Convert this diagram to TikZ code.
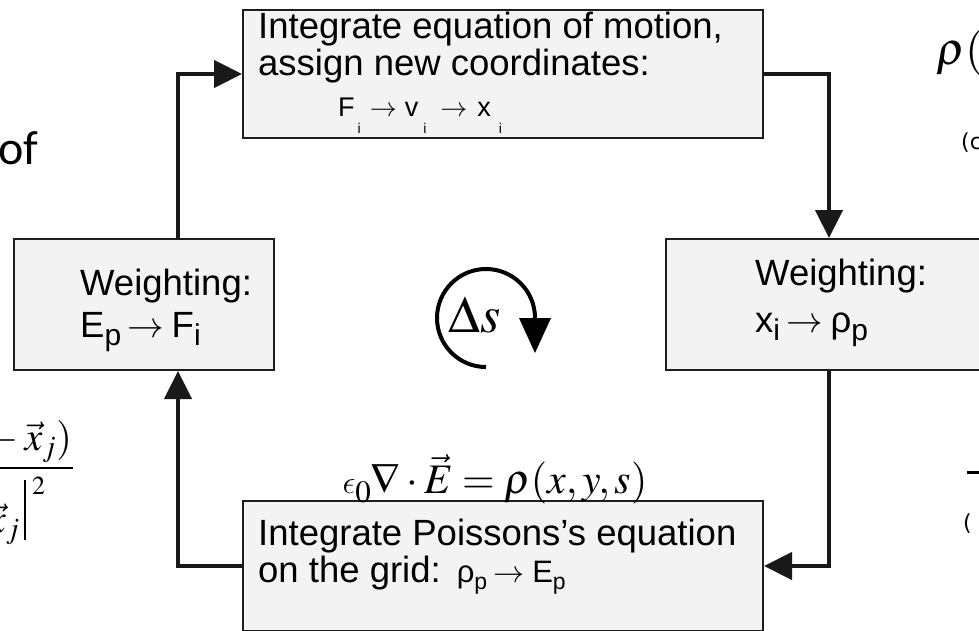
\documentclass[tikz,border=0pt]{standalone}
\usepackage{mathptmx}
\usepackage[no-math]{fontspec}
\usepackage{graphicx}
\setmainfont{Liberation Sans}
\newfontfamily\calfont{Carlito}
\newfontfamily\djv{DejaVu Sans}
\usetikzlibrary{arrows.meta}
\DeclareSymbolFont{lmlet}{OML}{lmm}{m}{it}
\DeclareMathSymbol{\lunateps}{\mathord}{lmlet}{"0F}
\definecolor{boxfill}{RGB}{242,243,242}
\definecolor{boxline}{RGB}{30,30,30}
\newcommand{\tsub}[3]{\raisebox{#1}{\fontsize{#2}{#2}\selectfont #3}}
\begin{document}
\begin{tikzpicture}[x=1pt,y=-1pt,
  box/.style={draw=boxline, line width=2pt, fill=boxfill, rectangle, inner sep=0pt, anchor=north west},
  conn/.style={line width=4.5pt, draw=black!90, -{Triangle[length=28pt,width=27pt]}},
  lbl/.style={anchor=base west, inner sep=0pt, font=\fontsize{36.5}{37}\selectfont},
  frag/.style={anchor=base west, inner sep=0pt}]
\useasboundingbox (0,0) rectangle (979,631);
\clip (0,0) rectangle (979,631);

% boxes
\node[box, minimum width=520pt, minimum height=128pt] (T) at (242,9) {};
\node[box, minimum width=260pt, minimum height=131pt] (L) at (13,238) {};
\node[box, minimum width=326pt, minimum height=131pt] (R) at (665,238) {};
\node[box, minimum width=520pt, minimum height=130pt] (B) at (242,500) {};

% connectors
\draw[conn] ([xshift=34pt]L.north) |- (T.west);
\draw[conn] (T.east) -| (R.north);
\draw[conn] (R.south) |- (B.east);
\draw[conn] (B.west) -| ([xshift=34pt]L.south);

% texts in boxes
\node[lbl] (t1) at (258,39) {Integrate equation of motion,};
\node[lbl] (t2) at (258,76) {assign new coordinates:};
\node[lbl, font=\fontsize{27}{27}\selectfont] (t3) at (338,117)
  {F\hspace{3pt}\tsub{-17pt}{14}{i}\hspace{9pt}$\rightarrow$\hspace{8pt}v\hspace{5pt}\tsub{-17pt}{14}{i}\hspace{14pt}$\rightarrow$\hspace{10pt}x\hspace{8pt}\tsub{-17pt}{14}{i}};

\node[lbl] (l1) at (80,295) {Weighting:};
\node[lbl] (l2) at (80,337) {E\tsub{-8pt}{30}{p}\hspace{6pt}$\rightarrow$\hspace{8pt}F\tsub{-8pt}{30}{i}};

\node[lbl] (r1) at (755,285) {Weighting:};
\node[lbl] (r2) at (755,332) {x\tsub{-8pt}{30}{i}\hspace{6pt}$\rightarrow$\hspace{8pt}ρ\tsub{-8pt}{30}{p}};

\node[lbl] (b1) at (258,545) {Integrate Poissons's equation};
\node[lbl] (b2) at (258,582) {on the grid:\hspace{16pt}{\fontsize{31}{31}\selectfont ρ\tsub{-7pt}{23}{p}\hspace{6pt}$\rightarrow$\hspace{8pt}E\tsub{-7pt}{23}{p}}};

% equation
\node[anchor=base, inner sep=0pt] (eq) at (495,493)
  {\fontsize{42}{42}\selectfont$\scalebox{1.3}{$\lunateps$}\raisebox{-9pt}{$\scriptstyle 0$}\nabla\cdot\vec{E}=\rho(x,y,s)$};

% Delta s cycle symbol
\node[frag] (ds) at (448,332) {\fontsize{52}{52}\selectfont$\Delta s$};
\draw[line width=4pt] (486,367) arc[start angle=90, end angle=360, radius=49];
\fill (519,318) -- (551,318) -- (535,353) -- cycle;

% fragments at edges
\node[frag, font=\calfont\fontsize{48}{48}\selectfont] (of) at (-2,165) {of};
\node[anchor=base east, inner sep=0pt] (num) at (72,450) {\fontsize{40}{40}\selectfont${}-\vec{x}_j)$};
\draw[line width=2.5pt] (-5,468) -- (73,468);
\node[anchor=base east, inner sep=0pt] (den) at (20,532) {\fontsize{40}{40}\selectfont$\vec{x}_j$};
\draw[line width=2.5pt] (25,480) -- (25,540);
\node[frag] (sq) at (32,494) {\fontsize{26}{26}\selectfont$2$};
\node[frag] (rho) at (936,65) {\fontsize{46}{46}\selectfont$\rho($};
\node[frag, font=\djv\fontsize{22}{22}\selectfont] (cc) at (961,150) {(c};
\draw[line width=3pt] (967,472) -- (990,472);
\node[frag, font=\djv\fontsize{22}{22}\selectfont] (pp) at (963,530) {(};
\end{tikzpicture}
\end{document}
